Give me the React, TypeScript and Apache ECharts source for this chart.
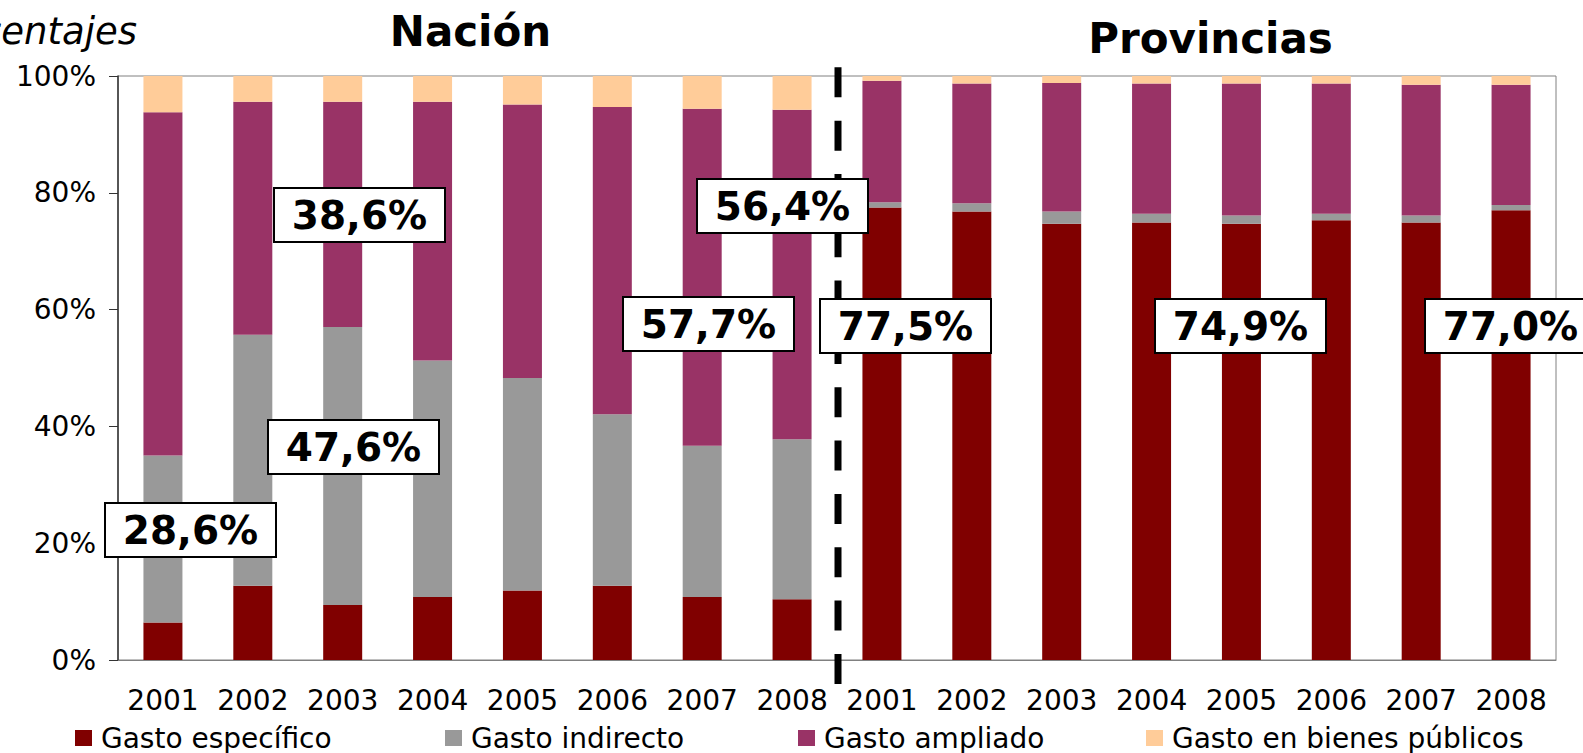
import React, { useEffect, useRef } from 'react';
import * as echarts from 'echarts';

const years = ['2001', '2002', '2003', '2004', '2005', '2006', '2007', '2008'];
const groups = ['Nación', 'Provincias'];
const seriesNames = ['Gasto específico', 'Gasto indirecto', 'Gasto ampliado', 'Gasto en bienes públicos'];

const nacionEspecifico = [6.4, 12.7, 9.4, 10.8, 11.9, 12.7, 10.8, 10.4];
const nacionIndirecto = [28.6, 43.0, 47.6, 40.5, 36.4, 29.4, 25.9, 27.4];
const nacionAmpliado = [58.8, 39.9, 38.6, 44.3, 46.8, 52.6, 57.7, 56.4];
const nacionBienes = [6.2, 4.4, 4.4, 4.4, 4.9, 5.3, 5.6, 5.8];

const provEspecifico = [77.5, 76.8, 74.7, 74.9, 74.7, 75.3, 74.9, 77.0];
const provIndirecto = [0.9, 1.4, 2.1, 1.5, 1.4, 1.1, 1.2, 0.9];
const provAmpliado = [20.8, 20.5, 22.0, 22.3, 22.6, 22.3, 22.4, 20.6];
const provBienes = [0.8, 1.3, 1.2, 1.3, 1.3, 1.3, 1.5, 1.5];

const yTicks = [0, 20, 40, 60, 80, 100];
const colors = ['#800000', '#999999', '#993366', '#FFCC99'];

// annotation boxes: which value they show (series index, category index) and where the box sits
const annotations = [
  { s: 1, c: 0, x: 105, y: 503 },
  { s: 1, c: 2, x: 268, y: 420 },
  { s: 2, c: 2, x: 274, y: 188 },
  { s: 2, c: 6, x: 623, y: 297 },
  { s: 2, c: 7, x: 697, y: 179 },
  { s: 0, c: 8, x: 820, y: 299 },
  { s: 0, c: 11, x: 1155, y: 299 },
  { s: 0, c: 15, x: 1425, y: 299 },
];

const FONT = '"DejaVu Sans", Verdana, sans-serif';

export default function App() {
  const ref = useRef<HTMLDivElement>(null);
  useEffect(() => {
    document.body.style.margin = '0';
    const chart = echarts.init(ref.current!, undefined, { renderer: 'svg' });
    const categories = [
      ...years.map((y) => groups[0] + ' ' + y),
      ...years.map((y) => groups[1] + ' ' + y),
    ];
    const seriesData = [
      [...nacionEspecifico, ...provEspecifico],
      [...nacionIndirecto, ...provIndirecto],
      [...nacionAmpliado, ...provAmpliado],
      [...nacionBienes, ...provBienes],
    ];
    const fmt = (v: number) => v.toFixed(1).replace('.', ',') + '%';
    const boxW = 171;
    const boxH = 54;
    const graphics: any[] = [
      {
        type: 'text', x: 137, y: 31, z: 50,
        style: { text: 'Porcentajes', fill: '#000', font: `italic 37px ${FONT}`, textAlign: 'right', textVerticalAlign: 'middle' },
      },
      {
        type: 'text', x: 470.5, y: 31.7, z: 50,
        style: { text: groups[0], fill: '#000', font: `bold 42px ${FONT}`, textAlign: 'center', textVerticalAlign: 'middle' },
      },
      {
        type: 'text', x: 1210.5, y: 38.8, z: 50,
        style: { text: groups[1], fill: '#000', font: `bold 42px ${FONT}`, textAlign: 'center', textVerticalAlign: 'middle' },
      },
      {
        type: 'line', z: 40,
        shape: { x1: 838, y1: 67.3, x2: 838, y2: 684 },
        style: { stroke: '#000', lineWidth: 7, lineDash: [30, 23.33] },
      },
    ];
    annotations.forEach((a) => {
      graphics.push({
        type: 'rect', z: 60,
        shape: { x: a.x, y: a.y, width: boxW, height: boxH },
        style: { fill: '#fff', stroke: '#000', lineWidth: 2 },
      });
      graphics.push({
        type: 'text', z: 61, x: a.x + boxW / 2, y: a.y + boxH / 2,
        style: { text: fmt(seriesData[a.s][a.c]), fill: '#000', font: `bold 39px ${FONT}`, textAlign: 'center', textVerticalAlign: 'middle' },
      });
    });
    const legendLefts = [70, 440, 793, 1141];
    chart.setOption({
      animation: false,
      textStyle: { fontFamily: FONT },
      grid: { left: 118, right: 27, top: 76, bottom: 93, show: true, borderColor: '#808080', borderWidth: 1 },
      legend: seriesNames.map((n, i) => ({
        data: [n],
        left: legendLefts[i],
        top: 718,
        icon: 'rect',
        itemWidth: 17,
        itemHeight: 16,
        selectedMode: false,
        textStyle: { fontSize: 28, color: '#000', fontFamily: FONT, lineHeight: 30, padding: [0, 0, 0, 4] },
      })),
      xAxis: {
        type: 'category',
        data: categories,
        axisTick: { show: false },
        axisLine: { lineStyle: { color: '#808080', width: 1 } },
        axisLabel: { formatter: (v: string) => v.split(' ')[1], fontSize: 28, color: '#000', margin: 26, interval: 0, fontFamily: FONT },
      },
      yAxis: {
        type: 'value',
        min: yTicks[0],
        max: yTicks[yTicks.length - 1],
        interval: yTicks[1] - yTicks[0],
        axisLine: { show: true, lineStyle: { color: '#333', width: 1.5 } },
        axisTick: { show: true, length: 9, lineStyle: { color: '#333' } },
        splitLine: { show: false },
        axisLabel: { formatter: (v: number) => v + '%', fontSize: 28, color: '#000', margin: 22, fontFamily: FONT },
      },
      series: seriesNames.map((n, i) => ({
        name: n,
        type: 'bar',
        stack: 'total',
        barWidth: 39,
        data: seriesData[i],
        itemStyle: { color: colors[i] },
      })),
      graphic: { elements: graphics },
    });
    return () => chart.dispose();
  }, []);
  return <div ref={ref} style={{ width: 1583, height: 753 }} />;
}
